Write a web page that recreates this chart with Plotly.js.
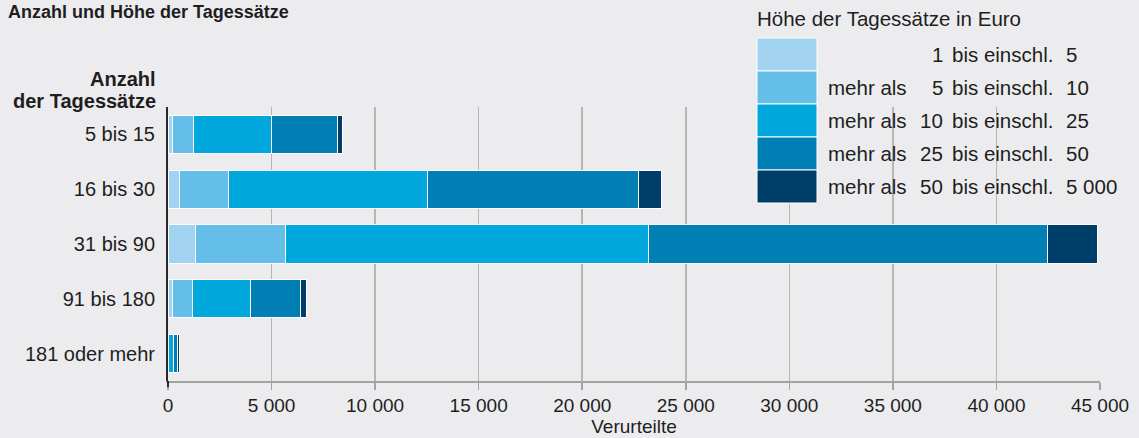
<!DOCTYPE html>
<html>
<head>
<meta charset="utf-8">
<script src="https://cdn.plot.ly/plotly-3.0.1.min.js"></script>
<style>
  html, body { margin: 0; padding: 0; background: #ececee; }
  #chart { width: 1139px; height: 438px; }
</style>
</head>
<body>
<div id="chart"></div>
<script>
// ---- Data ----
const categories = ["5 bis 15", "16 bis 30", "31 bis 90", "91 bis 180", "181 oder mehr"];

const seriesNames = [
  "1 bis einschl. 5",
  "mehr als 5 bis einschl. 10",
  "mehr als 10 bis einschl. 25",
  "mehr als 25 bis einschl. 50",
  "mehr als 50 bis einschl. 5 000"
];
const legendPrefix = ["", "mehr als", "mehr als", "mehr als", "mehr als"];
const legendFrom = ["1", "5", "10", "25", "50"];
const legendTo = ["5", "10", "25", "50", "5 000"];

const bis5    = [230,   546,  1304,  227,   5];
const bis10   = [1010,  2384, 4379,  932,  20];
const bis25   = [3760,  9610, 17528, 2834, 230];
const bis50   = [3190, 10171, 19265, 2381, 190];
const bis5000 = [240,   1128, 2381,  323, 130];

const xTickVals = [0, 5000, 10000, 15000, 20000, 25000, 30000, 35000, 40000, 45000];
const xTickText = ["0", "5 000", "10 000", "15 000", "20 000", "25 000", "30 000", "35 000", "40 000", "45 000"];

const colors = ["#a1d3f0", "#65bee7", "#00a7dd", "#007fb5", "#003e6a"];

// ---- Layout geometry ----
const W = 1139, H = 438;
const M = { l: 168, r: 39, t: 107, b: 57 };
const PW = W - M.l - M.r, PH = H - M.t - M.b;
const px = x => (x - M.l) / PW;
const py = y => (H - M.b - y) / PH;

const FONT = '"Liberation Sans", Arial, Helvetica, sans-serif';
const TXT = '#1e1e1e';

const seriesValues = [bis5, bis10, bis25, bis50, bis5000];
const traces = seriesValues.map((vals, i) => ({
  type: 'bar',
  orientation: 'h',
  name: seriesNames[i],
  y: categories,
  x: vals,
  marker: { color: colors[i], line: { color: '#ffffff', width: 1 } },
  hoverinfo: 'x+name'
}));

const annotations = [];
const shapes = [];

// Chart title (top-left)
annotations.push({
  xref: 'paper', yref: 'paper', x: px(6), y: py(12), xanchor: 'left', yanchor: 'middle',
  text: '<b>Anzahl und Höhe der Tagessätze</b>', showarrow: false,
  font: { family: FONT, size: 18, color: TXT }
});

// Y axis header
annotations.push({
  xref: 'paper', yref: 'paper', x: px(158), y: py(79), xanchor: 'right', yanchor: 'middle',
  text: '<b>Anzahl</b>', showarrow: false, font: { family: FONT, size: 20, color: TXT }
});
annotations.push({
  xref: 'paper', yref: 'paper', x: px(158), y: py(101), xanchor: 'right', yanchor: 'middle',
  text: '<b>der Tagessätze</b>', showarrow: false, font: { family: FONT, size: 20, color: TXT }
});

// Legend (custom)
annotations.push({
  xref: 'paper', yref: 'paper', x: px(755), y: py(19), xanchor: 'left', yanchor: 'middle',
  text: 'Höhe der Tagessätze in Euro', showarrow: false, font: { family: FONT, size: 20.5, color: TXT }
});
const swTop = 38, swH = 33;
colors.forEach((c, i) => {
  const y0 = swTop + i * swH, y1 = y0 + swH;
  shapes.push({
    type: 'rect', xref: 'paper', yref: 'paper',
    x0: px(757), x1: px(817), y0: py(y1), y1: py(y0),
    fillcolor: c, line: { color: '#ffffff', width: 1 }
  });
  const yc = py((y0 + y1) / 2);
  const f = { family: FONT, size: 20.5, color: TXT };
  if (legendPrefix[i]) {
    annotations.push({ xref: 'paper', yref: 'paper', x: px(826), y: yc, xanchor: 'left', yanchor: 'middle',
      text: legendPrefix[i], showarrow: false, font: f });
  }
  annotations.push({ xref: 'paper', yref: 'paper', x: px(945), y: yc, xanchor: 'right', yanchor: 'middle',
    text: legendFrom[i], showarrow: false, font: f });
  annotations.push({ xref: 'paper', yref: 'paper', x: px(950), y: yc, xanchor: 'left', yanchor: 'middle',
    text: 'bis einschl.', showarrow: false, font: f });
  annotations.push({ xref: 'paper', yref: 'paper', x: px(1064), y: yc, xanchor: 'left', yanchor: 'middle',
    text: legendTo[i], showarrow: false, font: f });
});

// small extension of the left axis line below the x axis
shapes.push({
  type: 'line', xref: 'paper', yref: 'paper', x0: 0, x1: 0, y0: 0, y1: py(387),
  line: { color: '#2a2a2a', width: 2 }
});

const layout = {
  width: W, height: H,
  margin: M,
  paper_bgcolor: '#ececee',
  plot_bgcolor: '#ececee',
  barmode: 'stack',
  bargap: 0.3,
  showlegend: false,
  font: { family: FONT, size: 20, color: TXT },
  xaxis: {
    range: [0, 45000],
    tickvals: xTickVals,
    ticktext: xTickText,
    showgrid: true, gridcolor: '#b6b6b6', gridwidth: 1.5,
    zeroline: false,
    showline: true, linecolor: '#a3a3a3', linewidth: 1.5,
    ticks: 'outside', ticklen: 7, tickcolor: '#a3a3a3', tickwidth: 1.5,
    tickfont: { family: FONT, size: 19, color: TXT },
    title: { text: 'Verurteilte', font: { family: FONT, size: 19, color: TXT }, standoff: 2 },
    fixedrange: true
  },
  yaxis: {
    type: 'category',
    categoryarray: categories,
    autorange: 'reversed',
    showgrid: false, zeroline: false,
    showline: true, linecolor: '#2a2a2a', linewidth: 2,
    ticks: '', ticklabelstandoff: 7,
    tickfont: { family: FONT, size: 20, color: TXT },
    fixedrange: true
  },
  annotations: annotations,
  shapes: shapes
};

Plotly.newPlot('chart', traces, layout, { displayModeBar: false, staticPlot: true });
</script>
</body>
</html>
